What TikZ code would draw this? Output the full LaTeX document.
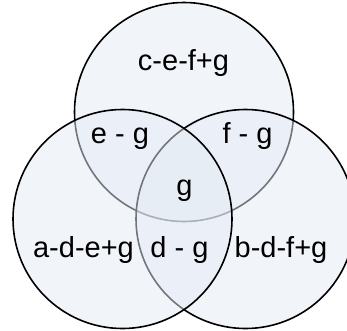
\documentclass[tikz,border=0pt]{standalone}
\usepackage{fontspec}
\setmainfont{Liberation Sans}
\begin{document}
\begin{tikzpicture}[x=1pt,y=-1pt,
  setc/.style={draw=black, line width=1.6pt, fill={rgb,255:red,228;green,234;blue,244}, fill opacity=0.5},
  lbl/.style={font=\fontsize{29}{32}\selectfont, anchor=base, inner sep=0pt}]
\useasboundingbox (0,0) rectangle (347,330);
\begin{scope}
\clip (0,0) rectangle (347,330);
\path[setc] (184,112) circle (109.5);
\path[setc] (245.5,219) circle (109.5);
\path[setc] (122.5,219) circle (109.5);
\end{scope}
\node[lbl] (c) at (183.5,70) {c-e-f+g};
\node[lbl] (eg) at (120,143) {e - g};
\node[lbl] (fg) at (247.5,143) {f - g};
\node[lbl] (g) at (184.5,195) {g};
\node[lbl] (a) at (83.5,257) {a-d-e+g};
\node[lbl] (dg) at (179.5,257) {d - g};
\node[lbl] (b) at (281,257) {b-d-f+g};
\end{tikzpicture}
\end{document}
